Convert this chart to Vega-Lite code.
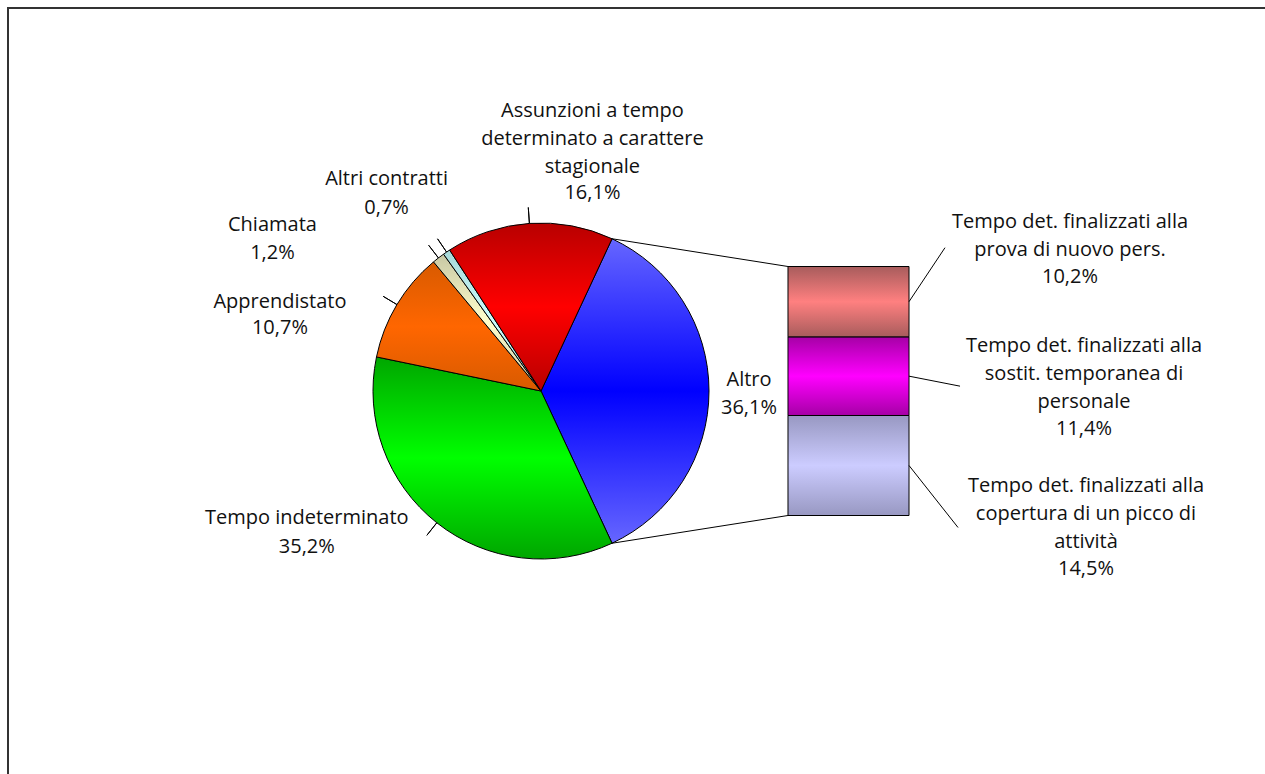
{
  "$schema": "https://vega.github.io/schema/vega-lite/v6.json",
  "width": 1290,
  "height": 800,
  "autosize": "none",
  "padding": {"left": 8, "top": 8, "right": 0, "bottom": 0},
  "background": "#ffffff",
  "config": {
    "view": {"stroke": "#333333", "strokeWidth": 2},
    "axis": {"disable": true},
    "locale": {"number": {"decimal": ",", "thousands": ".", "grouping": [3], "currency": ["€", ""]}},
    "text": {"font": "Open Sans", "fontSize": 20, "color": "#111111", "lineHeight": 28, "lineBreak": "\n", "align": "center", "baseline": "middle"}
  },
  "datasets": {
    "contratti": [
      {"categoria": "Altro", "nome": "Altro", "quota": 0.361, "ordine": 1},
      {"categoria": "Tempo indeterminato", "nome": "Tempo indeterminato", "quota": 0.352, "ordine": 2},
      {"categoria": "Apprendistato", "nome": "Apprendistato", "quota": 0.107, "ordine": 3},
      {"categoria": "Chiamata", "nome": "Chiamata", "quota": 0.012, "ordine": 4},
      {"categoria": "Altri contratti", "nome": "Altri contratti", "quota": 0.007, "ordine": 5},
      {"categoria": "Stagionali", "nome": "Assunzioni a tempo\ndeterminato a carattere\nstagionale", "quota": 0.161, "ordine": 6}
    ],
    "altro": [
      {"categoria": "Picco", "nome": "Tempo det. finalizzati alla\ncopertura di un picco di\nattività", "quota": 0.145, "ordine": 1},
      {"categoria": "Sostituzione", "nome": "Tempo det. finalizzati alla\nsostit. temporanea di\npersonale", "quota": 0.114, "ordine": 2},
      {"categoria": "Prova", "nome": "Tempo det. finalizzati alla\nprova di nuovo pers.", "quota": 0.102, "ordine": 3}
    ]
  },
  "layer": [
    {
      "data": {"name": "contratti"},
      "transform": [
        {"stack": "quota", "groupby": [], "sort": [{"field": "ordine", "order": "ascending"}], "as": ["q0", "q1"]}
      ],
      "layer": [
        {
          "transform": [{"filter": "datum.categoria === 'Altro'"}],
          "mark": {"type": "arc", "outerRadius": 168, "stroke": "#000000", "strokeWidth": 1,
            "fill": {"gradient": "linear", "x1": 0, "y1": 0, "x2": 0, "y2": 1, "stops": [{"offset": 0, "color": "#6666ff"}, {"offset": 0.5, "color": "#0000ff"}, {"offset": 1, "color": "#6666ff"}]}},
          "encoding": {
            "x": {"datum": 0, "type": "quantitative", "stack": null, "scale": {"domain": [0, 0.361], "range": [533, 782], "nice": false, "zero": false}},
            "y": {"datum": 0.1805, "type": "quantitative", "stack": null, "scale": {"domain": [0, 0.361], "range": [507.5, 258.5], "nice": false, "zero": false}},
            "theta": {"field": "q0", "type": "quantitative", "stack": null, "scale": {"domain": [0, 1], "range": [0.43668, 6.71987], "nice": false, "zero": false}},
            "theta2": {"field": "q1"}
          }
        },
        {
          "transform": [{"filter": "datum.categoria === 'Tempo indeterminato'"}],
          "mark": {"type": "arc", "outerRadius": 168, "stroke": "#000000", "strokeWidth": 1,
            "fill": {"gradient": "linear", "x1": 0, "y1": 0, "x2": 0, "y2": 1, "stops": [{"offset": 0, "color": "#00a600"}, {"offset": 0.5, "color": "#00ff00"}, {"offset": 1, "color": "#00a600"}]}},
          "encoding": {
            "x": {"datum": 0, "type": "quantitative", "stack": null},
            "y": {"datum": 0.1805, "type": "quantitative", "stack": null},
            "theta": {"field": "q0", "type": "quantitative", "stack": null},
            "theta2": {"field": "q1"}
          }
        },
        {
          "transform": [{"filter": "datum.categoria === 'Apprendistato'"}],
          "mark": {"type": "arc", "outerRadius": 168, "stroke": "#000000", "strokeWidth": 1,
            "fill": {"gradient": "linear", "x1": 0, "y1": 0, "x2": 0, "y2": 1, "stops": [{"offset": 0, "color": "#d85a00"}, {"offset": 0.5, "color": "#ff6600"}, {"offset": 1, "color": "#d85a00"}]}},
          "encoding": {
            "x": {"datum": 0, "type": "quantitative", "stack": null},
            "y": {"datum": 0.1805, "type": "quantitative", "stack": null},
            "theta": {"field": "q0", "type": "quantitative", "stack": null},
            "theta2": {"field": "q1"}
          }
        },
        {
          "transform": [{"filter": "datum.categoria === 'Chiamata'"}],
          "mark": {"type": "arc", "outerRadius": 168, "stroke": "#000000", "strokeWidth": 1,
            "fill": {"gradient": "linear", "x1": 0, "y1": 0, "x2": 0, "y2": 1, "stops": [{"offset": 0, "color": "#c8c8a4"}, {"offset": 0.5, "color": "#ffffcc"}, {"offset": 1, "color": "#c8c8a4"}]}},
          "encoding": {
            "x": {"datum": 0, "type": "quantitative", "stack": null},
            "y": {"datum": 0.1805, "type": "quantitative", "stack": null},
            "theta": {"field": "q0", "type": "quantitative", "stack": null},
            "theta2": {"field": "q1"}
          }
        },
        {
          "transform": [{"filter": "datum.categoria === 'Altri contratti'"}],
          "mark": {"type": "arc", "outerRadius": 168, "stroke": "#000000", "strokeWidth": 1,
            "fill": {"gradient": "linear", "x1": 0, "y1": 0, "x2": 0, "y2": 1, "stops": [{"offset": 0, "color": "#a6d8d8"}, {"offset": 0.5, "color": "#ccffff"}, {"offset": 1, "color": "#a6d8d8"}]}},
          "encoding": {
            "x": {"datum": 0, "type": "quantitative", "stack": null},
            "y": {"datum": 0.1805, "type": "quantitative", "stack": null},
            "theta": {"field": "q0", "type": "quantitative", "stack": null},
            "theta2": {"field": "q1"}
          }
        },
        {
          "transform": [{"filter": "datum.categoria === 'Stagionali'"}],
          "mark": {"type": "arc", "outerRadius": 168, "stroke": "#000000", "strokeWidth": 1,
            "fill": {"gradient": "linear", "x1": 0, "y1": 0, "x2": 0, "y2": 1, "stops": [{"offset": 0, "color": "#b80000"}, {"offset": 0.5, "color": "#ff0000"}, {"offset": 1, "color": "#b80000"}]}},
          "encoding": {
            "x": {"datum": 0, "type": "quantitative", "stack": null},
            "y": {"datum": 0.1805, "type": "quantitative", "stack": null},
            "theta": {"field": "q0", "type": "quantitative", "stack": null},
            "theta2": {"field": "q1"}
          }
        },
        {
          "transform": [{"filter": "datum.categoria === 'Altro'"}],
          "mark": {"type": "rule", "color": "#000000", "strokeWidth": 1},
          "encoding": {
            "x": {"datum": 0.3581, "type": "quantitative", "stack": null},
            "y": {"field": "quota", "type": "quantitative", "stack": null},
            "x2": {"datum": 0.10301},
            "y2": {"datum": 0.40122}
          }
        },
        {
          "transform": [{"filter": "datum.categoria === 'Altro'"}],
          "mark": {"type": "rule", "color": "#000000", "strokeWidth": 1},
          "encoding": {
            "x": {"datum": 0.10301, "type": "quantitative", "stack": null},
            "y": {"datum": -0.04022, "type": "quantitative", "stack": null},
            "x2": {"datum": 0.3581},
            "y2": {"datum": 0}
          }
        },
        {
          "transform": [
            {"fold": ["q0", "q1"], "as": ["estremo", "q"]},
            {"aggregate": [{"op": "mean", "field": "q", "as": "qmid"}], "groupby": ["categoria", "nome", "quota"]}
          ],
          "encoding": {
            "x": {"datum": 0, "type": "quantitative", "stack": null},
            "y": {"datum": 0.1805, "type": "quantitative", "stack": null},
            "theta": {"field": "qmid", "type": "quantitative", "stack": null}
          },
          "layer": [
            {
              "transform": [{"filter": "datum.categoria !== 'Altro'"}],
              "mark": {"type": "arc", "innerRadius": 168, "outerRadius": 184, "filled": false, "stroke": "#000000", "strokeWidth": 1},
              "encoding": {"theta2": {"field": "qmid"}}
            },
            {
              "transform": [{"filter": "datum.categoria === 'Altro'"}],
              "mark": {"type": "text", "radius": 168, "dx": 40, "dy": -11},
              "encoding": {"text": {"field": "nome", "type": "nominal"}}
            },
            {
              "transform": [{"filter": "datum.categoria === 'Altro'"}],
              "mark": {"type": "text", "radius": 168, "dx": 40, "dy": 17},
              "encoding": {"text": {"field": "quota", "type": "quantitative", "format": ".1%"}}
            },
            {
              "transform": [{"filter": "datum.categoria === 'Tempo indeterminato'"}],
              "mark": {"type": "text", "radius": 168, "dx": -130, "dy": -5},
              "encoding": {"text": {"field": "nome", "type": "nominal"}}
            },
            {
              "transform": [{"filter": "datum.categoria === 'Tempo indeterminato'"}],
              "mark": {"type": "text", "radius": 168, "dx": -130, "dy": 24},
              "encoding": {"text": {"field": "quota", "type": "quantitative", "format": ".1%"}}
            },
            {
              "transform": [{"filter": "datum.categoria === 'Apprendistato'"}],
              "mark": {"type": "text", "radius": 168, "dx": -117, "dy": -3},
              "encoding": {"text": {"field": "nome", "type": "nominal"}}
            },
            {
              "transform": [{"filter": "datum.categoria === 'Apprendistato'"}],
              "mark": {"type": "text", "radius": 168, "dx": -117, "dy": 23},
              "encoding": {"text": {"field": "quota", "type": "quantitative", "format": ".1%"}}
            },
            {
              "transform": [{"filter": "datum.categoria === 'Chiamata'"}],
              "mark": {"type": "text", "radius": 168, "dx": -166, "dy": -33},
              "encoding": {"text": {"field": "nome", "type": "nominal"}}
            },
            {
              "transform": [{"filter": "datum.categoria === 'Chiamata'"}],
              "mark": {"type": "text", "radius": 168, "dx": -166, "dy": -5},
              "encoding": {"text": {"field": "quota", "type": "quantitative", "format": ".1%"}}
            },
            {
              "transform": [{"filter": "datum.categoria === 'Altri contratti'"}],
              "mark": {"type": "text", "radius": 168, "dx": -60, "dy": -73},
              "encoding": {"text": {"field": "nome", "type": "nominal"}}
            },
            {
              "transform": [{"filter": "datum.categoria === 'Altri contratti'"}],
              "mark": {"type": "text", "radius": 168, "dx": -60, "dy": -44},
              "encoding": {"text": {"field": "quota", "type": "quantitative", "format": ".1%"}}
            },
            {
              "transform": [{"filter": "datum.categoria === 'Stagionali'"}],
              "mark": {"type": "text", "radius": 168, "dx": 63, "dy": -112},
              "encoding": {"text": {"field": "nome", "type": "nominal"}}
            },
            {
              "transform": [{"filter": "datum.categoria === 'Stagionali'"}],
              "mark": {"type": "text", "radius": 168, "dx": 63, "dy": -30},
              "encoding": {"text": {"field": "quota", "type": "quantitative", "format": ".1%"}}
            }
          ]
        }
      ]
    },
    {
      "data": {"name": "altro"},
      "transform": [
        {"stack": "quota", "groupby": [], "sort": [{"field": "ordine", "order": "ascending"}], "as": ["b0", "b1"]}
      ],
      "layer": [
        {
          "transform": [{"filter": "datum.categoria === 'Picco'"}],
          "mark": {"type": "rect", "stroke": "#000000", "strokeWidth": 1,
            "fill": {"gradient": "linear", "x1": 0, "y1": 0, "x2": 0, "y2": 1, "stops": [{"offset": 0, "color": "#9898c2"}, {"offset": 0.5, "color": "#ccccff"}, {"offset": 1, "color": "#9898c2"}]}},
          "encoding": {
            "x": {"datum": 0.3581, "type": "quantitative"},
            "x2": {"datum": 0.53353},
            "y": {"field": "b0", "type": "quantitative"},
            "y2": {"field": "b1"}
          }
        },
        {
          "transform": [{"filter": "datum.categoria === 'Sostituzione'"}],
          "mark": {"type": "rect", "stroke": "#000000", "strokeWidth": 1,
            "fill": {"gradient": "linear", "x1": 0, "y1": 0, "x2": 0, "y2": 1, "stops": [{"offset": 0, "color": "#a600a6"}, {"offset": 0.5, "color": "#ff00ff"}, {"offset": 1, "color": "#a600a6"}]}},
          "encoding": {
            "x": {"datum": 0.3581, "type": "quantitative"},
            "x2": {"datum": 0.53353},
            "y": {"field": "b0", "type": "quantitative"},
            "y2": {"field": "b1"}
          }
        },
        {
          "transform": [{"filter": "datum.categoria === 'Prova'"}],
          "mark": {"type": "rect", "stroke": "#000000", "strokeWidth": 1,
            "fill": {"gradient": "linear", "x1": 0, "y1": 0, "x2": 0, "y2": 1, "stops": [{"offset": 0, "color": "#a85c5c"}, {"offset": 0.5, "color": "#ff8080"}, {"offset": 1, "color": "#a85c5c"}]}},
          "encoding": {
            "x": {"datum": 0.3581, "type": "quantitative"},
            "x2": {"datum": 0.53353},
            "y": {"field": "b0", "type": "quantitative"},
            "y2": {"field": "b1"}
          }
        },
        {
          "transform": [
            {"fold": ["b0", "b1"], "as": ["estremo", "b"]},
            {"aggregate": [{"op": "mean", "field": "b", "as": "bmid"}], "groupby": ["categoria", "nome", "quota"]}
          ],
          "layer": [
            {
              "transform": [{"filter": "datum.categoria === 'Prova'"}],
              "mark": {"type": "rule", "color": "#000000", "strokeWidth": 1, "y2Offset": -54},
              "encoding": {
                "x": {"datum": 0.53353, "type": "quantitative", "stack": null},
                "x2": {"datum": 0.5857},
                "y": {"field": "bmid", "type": "quantitative", "stack": null},
                "y2": {"field": "bmid"}
              }
            },
            {
              "transform": [{"filter": "datum.categoria === 'Sostituzione'"}],
              "mark": {"type": "rule", "color": "#000000", "strokeWidth": 1, "y2Offset": 10},
              "encoding": {
                "x": {"datum": 0.53353, "type": "quantitative", "stack": null},
                "x2": {"datum": 0.6075},
                "y": {"field": "bmid", "type": "quantitative", "stack": null},
                "y2": {"field": "bmid"}
              }
            },
            {
              "transform": [{"filter": "datum.categoria === 'Picco'"}],
              "mark": {"type": "rule", "color": "#000000", "strokeWidth": 1, "y2Offset": 62},
              "encoding": {
                "x": {"datum": 0.53353, "type": "quantitative", "stack": null},
                "x2": {"datum": 0.6046},
                "y": {"field": "bmid", "type": "quantitative", "stack": null},
                "y2": {"field": "bmid"}
              }
            },
            {
              "transform": [{"filter": "datum.categoria === 'Prova'"}],
              "mark": {"type": "text", "dx": 161, "dy": -80},
              "encoding": {
                "x": {"datum": 0.53353, "type": "quantitative", "stack": null},
                "y": {"field": "bmid", "type": "quantitative", "stack": null},
                "text": {"field": "nome", "type": "nominal"}
              }
            },
            {
              "transform": [{"filter": "datum.categoria === 'Prova'"}],
              "mark": {"type": "text", "dx": 161, "dy": -25},
              "encoding": {
                "x": {"datum": 0.53353, "type": "quantitative", "stack": null},
                "y": {"field": "bmid", "type": "quantitative", "stack": null},
                "text": {"field": "quota", "type": "quantitative", "format": ".1%"}
              }
            },
            {
              "transform": [{"filter": "datum.categoria === 'Sostituzione'"}],
              "mark": {"type": "text", "dx": 175, "dy": -30},
              "encoding": {
                "x": {"datum": 0.53353, "type": "quantitative", "stack": null},
                "y": {"field": "bmid", "type": "quantitative", "stack": null},
                "text": {"field": "nome", "type": "nominal"}
              }
            },
            {
              "transform": [{"filter": "datum.categoria === 'Sostituzione'"}],
              "mark": {"type": "text", "dx": 175, "dy": 53},
              "encoding": {
                "x": {"datum": 0.53353, "type": "quantitative", "stack": null},
                "y": {"field": "bmid", "type": "quantitative", "stack": null},
                "text": {"field": "quota", "type": "quantitative", "format": ".1%"}
              }
            },
            {
              "transform": [{"filter": "datum.categoria === 'Picco'"}],
              "mark": {"type": "text", "dx": 177, "dy": 21},
              "encoding": {
                "x": {"datum": 0.53353, "type": "quantitative", "stack": null},
                "y": {"field": "bmid", "type": "quantitative", "stack": null},
                "text": {"field": "nome", "type": "nominal"}
              }
            },
            {
              "transform": [{"filter": "datum.categoria === 'Picco'"}],
              "mark": {"type": "text", "dx": 177, "dy": 104},
              "encoding": {
                "x": {"datum": 0.53353, "type": "quantitative", "stack": null},
                "y": {"field": "bmid", "type": "quantitative", "stack": null},
                "text": {"field": "quota", "type": "quantitative", "format": ".1%"}
              }
            }
          ]
        }
      ]
    }
  ]
}
